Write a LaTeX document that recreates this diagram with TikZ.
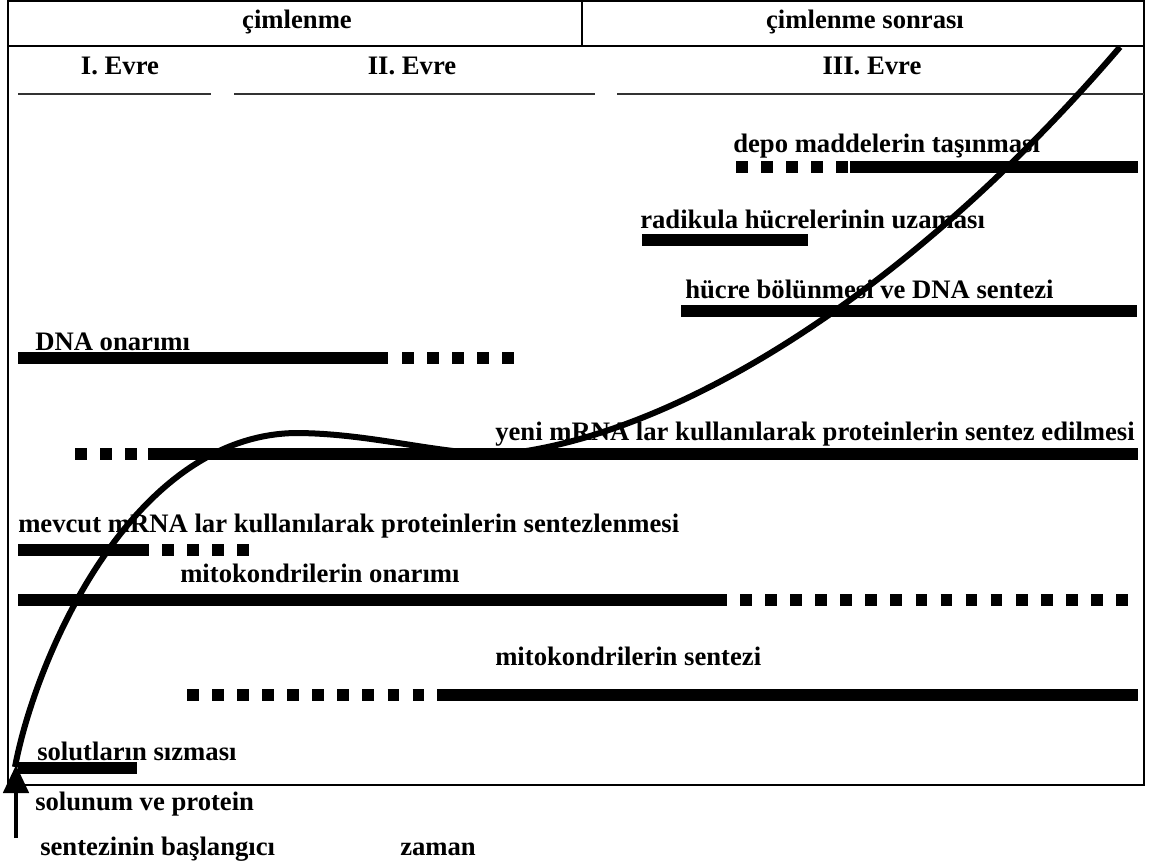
\documentclass[tikz,border=0pt]{standalone}
\usepackage{fontspec}
\setmainfont{Liberation Serif}
\usetikzlibrary{arrows.meta}
\tikzset{
  lbl/.style={font=\bfseries\fontsize{20}{22}\selectfont, anchor=base west, inner sep=0pt},
  hdr/.style={font=\bfseries\fontsize{20}{22}\selectfont, anchor=center, inner sep=0pt},
  bar/.style={line width=9.5pt},
  dbar/.style={line width=9.5pt, dash pattern=on 8.8pt off 10pt},
  evreline/.style={line width=1pt, draw=black!80},
  frame/.style={line width=1.5pt},
  growth/.style={line width=4.5pt, line join=round},
  startarr/.style={-{Triangle[length=21pt,width=19pt]}, line width=3pt},
}
\begin{document}
\begin{tikzpicture}[x=0.75pt, y=-0.75pt]
\useasboundingbox (0,0) rectangle (1159,865);
% frame and header
\draw[frame] (8,1) rectangle (1144,785);
\draw[frame] (8,46) -- (1144,46);
\draw[frame] (582,1) -- (582,46);
\node[hdr] (cim) at (297,22) {çimlenme};
\node[hdr] (cims) at (865,22) {çimlenme sonrası};
% phases
\node[hdr] (ev1) at (120,66) {I. Evre};
\node[hdr] (ev2) at (412,66) {II. Evre};
\node[hdr] (ev3) at (872,66) {III. Evre};
\draw[evreline] (18,94) -- (211,94);
\draw[evreline] (234,94) -- (595,94);
\draw[evreline] (617,94) -- (1144,94);
% processes
\node[lbl] (depo) at (733,152) {depo maddelerin taşınması};
\draw[dbar] (736,167) -- (848,167); \draw[bar] (850,167) -- (1138,167);
\node[lbl] (radi) at (640,228) {radikula hücrelerinin uzaması};
\draw[bar] (642,240) -- (808,240);
\node[lbl] (huc) at (685,298) {hücre bölünmesi ve DNA sentezi};
\draw[bar] (681,311) -- (1137,311);
\node[lbl] (dna) at (35,350) {DNA onarımı};
\draw[bar] (18,358) -- (388,358); \draw[dbar] (402,358) -- (517,358);
\node[lbl] (yeni) at (495,440) {yeni mRNA lar kullanılarak proteinlerin sentez edilmesi};
\draw[dbar] (75,454) -- (148,454); \draw[bar] (148,454) -- (1138,454);
\node[lbl] (mev) at (18,532) {mevcut mRNA lar kullanılarak proteinlerin sentezlenmesi};
\draw[bar] (18,550) -- (137,550); \draw[dbar] (137,550) -- (250,550);
\node[lbl] (mito) at (180,582) {mitokondrilerin onarımı};
\draw[bar] (18,600) -- (715,600); \draw[dbar] (715,600) -- (1130,600);
\node[lbl] (mits) at (495,665) {mitokondrilerin sentezi};
\draw[dbar] (187,695) -- (437,695); \draw[bar] (437,695) -- (1138,695);
\node[lbl] (sol) at (37,760) {solutların sızması};
\draw[bar] (18,768) -- (137,768);
% growth curve
\coordinate (g0) at (15,767);
\coordinate (gpeak) at (295,433);
\coordinate (gdip) at (520,452);
\coordinate (gend) at (1120,47);
\draw[growth] (g0) .. controls (35,660) and (130,436) .. (gpeak)
  .. controls (380,433) and (460,461) .. (gdip)
  .. controls (700,425) and (925,275) .. (gend);
% start arrow and time axis
\coordinate (tail) at (16,838);
\coordinate (tip) at (16,765);
\draw[startarr] (tail) -- (tip);
\node[lbl] (solu) at (35,810) {solunum ve protein};
\node[lbl] (bas) at (40,855) {sentezinin başlangıcı};
\node[lbl] (zam) at (400,855) {zaman};
\end{tikzpicture}
\end{document}
